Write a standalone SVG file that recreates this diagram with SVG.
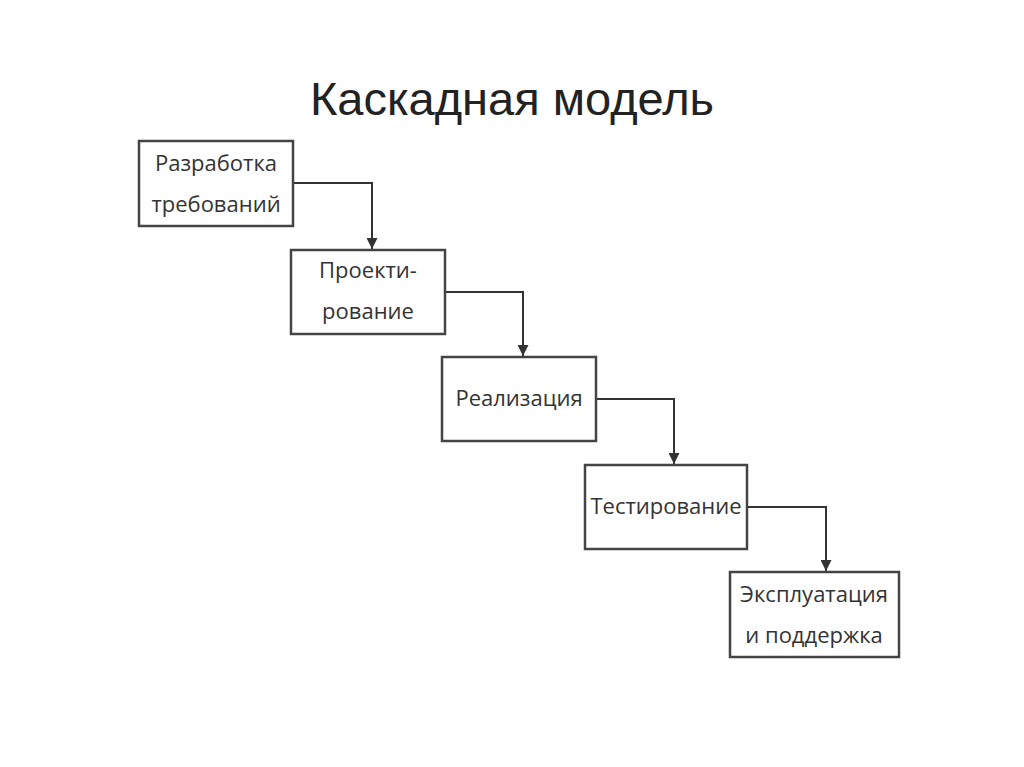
<svg xmlns="http://www.w3.org/2000/svg" width="1024" height="767" viewBox="0 0 1024 767">
<defs>
<style>
.box{fill:#fff;stroke:#444;stroke-width:2.5}
.t{font-family:"Open Sans","DejaVu Sans",sans-serif;font-size:22px;fill:#333;text-anchor:middle}
.c{fill:none;stroke:#333;stroke-width:2}
</style>
<marker id="a" viewBox="0 0 10 10" refX="10" refY="5" markerWidth="18" markerHeight="11" orient="auto" markerUnits="userSpaceOnUse">
<path d="M0,0L10,5L0,10z" fill="#333"/>
</marker>
</defs>
<rect width="1024" height="767" fill="#fff"/>
<text x="512" y="115" font-family="Liberation Sans,Arial,sans-serif" font-size="47" fill="#222" text-anchor="middle">Каскадная модель</text>
<g id="connectors">
<path class="c" d="M293,183H372V249" marker-end="url(#a)"/>
<path class="c" d="M445,292H523V356" marker-end="url(#a)"/>
<path class="c" d="M596,399H674V464" marker-end="url(#a)"/>
<path class="c" d="M747,507H826V571" marker-end="url(#a)"/>
</g>
<g id="n1"><rect class="box" x="139" y="141" width="154" height="85"/><text class="t" x="216" y="171">Разработка</text><text class="t" x="216" y="212">требований</text></g>
<g id="n2"><rect class="box" x="291" y="250" width="154" height="84"/><text class="t" x="368" y="278">Проекти-</text><text class="t" x="368" y="319">рование</text></g>
<g id="n3"><rect class="box" x="442" y="357" width="154" height="84"/><text class="t" x="519" y="406">Реализация</text></g>
<g id="n4"><rect class="box" x="585" y="465" width="162" height="84"/><text class="t" x="666" y="514">Тестирование</text></g>
<g id="n5"><rect class="box" x="730" y="572" width="169" height="85"/><text class="t" x="814" y="602">Эксплуатация</text><text class="t" x="814" y="643">и поддержка</text></g>
</svg>
